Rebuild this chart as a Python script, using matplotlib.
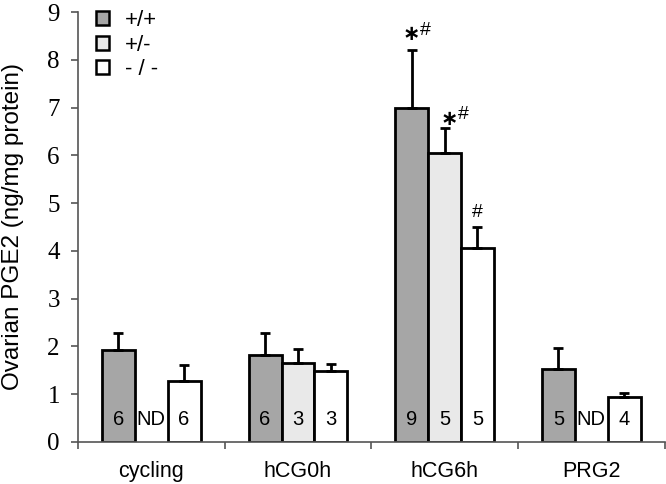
import matplotlib
matplotlib.use("Agg")
import matplotlib.pyplot as plt
import numpy as np
from matplotlib.patches import Patch

categories = ["cycling", "hCG0h", "hCG6h", "PRG2"]
genotypes = ["+/+", "+/-", "- / -"]
# values per genotype (None = ND)
means = {
    "+/+": [1.92, 1.83, 7.00, 1.52],
    "+/-": [None, 1.65, 6.05, None],
    "- / -": [1.27, 1.48, 4.06, 0.93],
}
errs = {
    "+/+": [0.35, 0.44, 1.20, 0.45],
    "+/-": [None, 0.30, 0.53, None],
    "- / -": [0.35, 0.15, 0.43, 0.10],
}
ns = {
    "+/+": ["6", "6", "9", "5"],
    "+/-": ["ND", "3", "5", "ND"],
    "- / -": ["6", "3", "5", "4"],
}
sig = {
    "+/+": ["", "", "*#", ""],
    "+/-": ["", "", "*#", ""],
    "- / -": ["", "", "#", ""],
}
colors = ["#a6a6a6", "#e9e9e9", "#ffffff"]
yticks = list(range(0, 10))

fig = plt.figure(figsize=(6.66, 4.84), dpi=100)
ax = fig.add_axes([0.117, 0.087, 0.881, 0.888])

sans = "Liberation Sans"
serif = "Liberation Serif"
w = 0.224
x = np.arange(len(categories))
# annotation offsets in pixels (star dx, star dy, hash dx, hash dy)
sig_off = {
    "+/+": (0, 16, 14, 20),
    "+/-": (5, 9, 19, 13),
    "- / -": (0, 0, 0, 15),
}
px = 0.72
for gi, g in enumerate(genotypes):
    pos = x + (gi - 1) * w
    for ci in range(len(categories)):
        m = means[g][ci]
        xp = pos[ci]
        if m is not None:
            ax.bar(xp, m, width=w, color=colors[gi], edgecolor="black",
                   linewidth=2.0, zorder=2)
            e = errs[g][ci]
            ax.errorbar(xp, m, yerr=[[0], [e]], fmt="none", ecolor="black",
                        elinewidth=2.0, capsize=3.8, capthick=2.0, zorder=3)
            s = sig[g][ci]
            if s:
                sdx, sdy, hdx, hdy = sig_off[g]
                if "*" in s:
                    ax.annotate("\u2217", (xp, m + e), xytext=(sdx * px, sdy * px),
                                textcoords="offset points", ha="center", va="center",
                                fontsize=15, family="DejaVu Sans", fontweight="bold")
                ax.annotate("#", (xp, m + e), xytext=(hdx * px, hdy * px),
                            textcoords="offset points", ha="center", va="center",
                            fontsize=14, family=sans)
        ax.text(xp, 0.46, ns[g][ci], ha="center", va="center", fontsize=14.5,
                family=sans, zorder=4)

ax.set_xlim(-0.5, len(categories) - 0.5)
ax.set_ylim(0, 9)
ax.set_yticks(yticks)
ax.set_yticklabels([str(t) for t in yticks], fontsize=18, family=serif)
ax.set_xticks(np.arange(-0.5, len(categories), 1.0))
ax.set_xticklabels([])
ax.set_xticks(x, minor=True)
ax.set_xticklabels(categories, minor=True, fontsize=15.5, family=sans)
ax.tick_params(axis="x", which="minor", length=0, pad=13.5)
ax.tick_params(axis="x", which="major", length=5, width=1.2, direction="out", color="#555555")
ax.tick_params(axis="y", length=5, width=1.2, direction="out", color="#555555", pad=8)
for s in ["top", "right"]:
    ax.spines[s].set_visible(False)
for s in ["left", "bottom"]:
    ax.spines[s].set_linewidth(1.2)
    ax.spines[s].set_color("#555555")
ax.set_ylabel("Ovarian PGE2 (ng/mg protein)", fontsize=17.5, family=sans, va="center")
ax.yaxis.set_label_coords(-0.111, 0.5)

handles = [Patch(facecolor=c, edgecolor="black", linewidth=1.8) for c in colors]
leg = ax.legend(handles, genotypes, loc="upper left", bbox_to_anchor=(0.015, 1.025),
                frameon=False, prop={"family": sans, "size": 16},
                handlelength=0.6, handleheight=0.6, handletextpad=0.7,
                labelspacing=0.15, borderaxespad=0)

fig.savefig("out.png", dpi=100)
